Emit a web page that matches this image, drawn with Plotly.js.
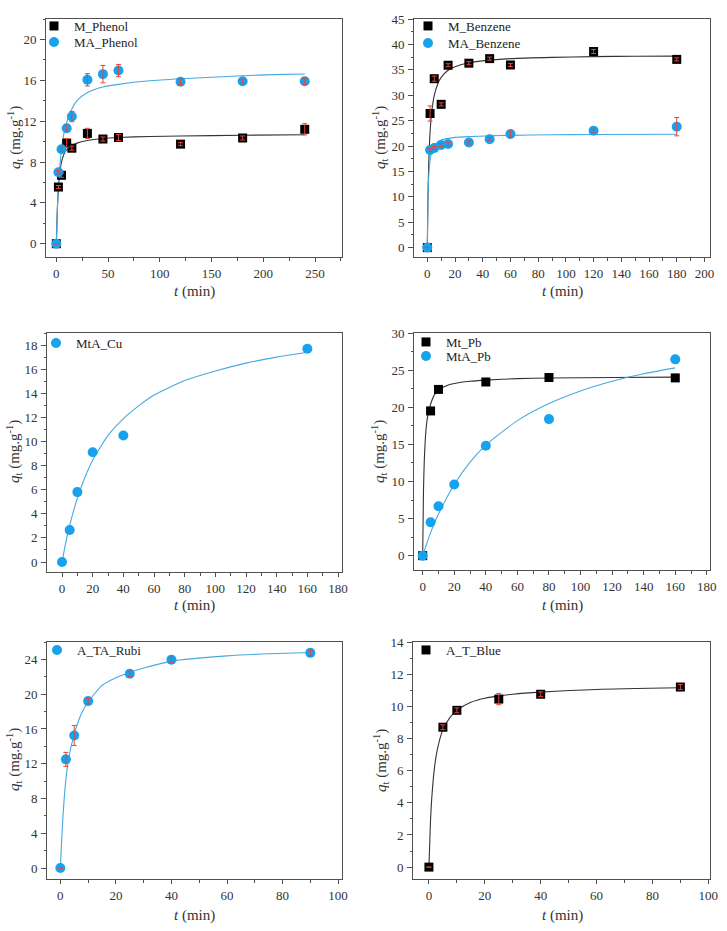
<!DOCTYPE html>
<html>
<head>
<meta charset="utf-8">
<script src="https://cdn.plot.ly/plotly-3.0.1.min.js"></script>
<style>
html,body{margin:0;padding:0;background:#fff;}
#chart{width:727px;height:931px;}
#chart svg text{font-family:"Liberation Serif","Times New Roman",serif !important;}
</style>
</head>
<body>
<div id="chart"></div>
<script>
// ---------- Panel 1: Phenol ----------
const phenolT = [0, 2, 5, 10, 15, 30, 45, 60, 120, 180, 240];
const mPhenol = [0, 5.55, 6.7, 9.85, 9.35, 10.8, 10.25, 10.4, 9.75, 10.35, 11.2];
const mPhenolErr = [0, 0.15, 0.2, 0.45, 0.2, 0.5, 0.2, 0.3, 0.15, 0.2, 0.55];
const maPhenol = [0, 7.0, 9.25, 11.3, 12.45, 16.05, 16.6, 16.95, 15.85, 15.9, 15.9];
const maPhenolErr = [0, 0.15, 0.2, 0.3, 0.5, 0.6, 0.85, 0.6, 0.25, 0.2, 0.3];
const mPhenolFitT = [0, 1, 2, 3, 5, 7.5, 10, 15, 20, 30, 45, 60, 90, 120, 180, 240];
const mPhenolFitQ = [0, 3.5, 5.5, 6.7, 8.0, 8.8, 9.2, 9.6, 9.85, 10.1, 10.3, 10.4, 10.5, 10.55, 10.62, 10.67];
const maPhenolFitT = [0, 1, 2, 3, 5, 7.5, 10, 15, 20, 30, 45, 60, 90, 120, 150, 180, 210, 240];
const maPhenolFitQ = [0, 3.4, 5.7, 7.1, 9.3, 10.9, 11.9, 13.2, 14.0, 14.8, 15.35, 15.6, 15.95, 16.15, 16.3, 16.45, 16.55, 16.62];

// ---------- Panel 2: Benzene ----------
const benzT = [0, 2, 5, 10, 15, 30, 45, 60, 120, 180];
const mBenz = [0, 26.4, 33.25, 28.2, 35.9, 36.3, 37.2, 35.95, 38.6, 37.05];
const mBenzErr = [0, 1.5, 0.5, 0.3, 0.3, 0.3, 0.3, 0.3, 0.4, 0.3];
const maBenz = [0, 19.2, 19.6, 20.2, 20.4, 20.7, 21.35, 22.35, 23.0, 23.8];
const maBenzErr = [0, 0.3, 0.3, 0.3, 0.3, 0.3, 0.3, 0.6, 0.3, 1.8];
const mBenzFitT = [0, 0.5, 1, 2, 3, 5, 7.5, 10, 15, 20, 30, 45, 60, 90, 120, 150, 180];
const mBenzFitQ = [0, 10.3, 16.2, 22.7, 26.2, 29.9, 32.2, 33.5, 34.9, 35.6, 36.4, 36.9, 37.2, 37.45, 37.6, 37.66, 37.7];
const maBenzFitT = [0, 0.5, 1, 2, 3, 5, 7.5, 10, 15, 20, 30, 45, 60, 90, 120, 180];
const maBenzFitQ = [0, 10.1, 13.9, 17.2, 18.6, 20.0, 20.8, 21.2, 21.5, 21.7, 21.85, 22.0, 22.1, 22.2, 22.25, 22.3];

// ---------- Panel 3: Cu ----------
const cuT = [0, 5, 10, 20, 40, 160];
const mtaCu = [0, 2.65, 5.8, 9.1, 10.5, 17.7];
const cuFitT = [0, 2.5, 5, 10, 15, 20, 30, 40, 50, 60, 80, 100, 120, 140, 160];
const cuFitQ = [0, 1.65, 3.05, 5.3, 7.05, 8.45, 10.5, 11.9, 12.95, 13.85, 15.05, 15.85, 16.5, 17.0, 17.4];

// ---------- Panel 4: Pb ----------
const pbT = [0, 5, 10, 40, 80, 160];
const mtPb = [0, 19.5, 22.4, 23.4, 24.0, 23.95];
const pbT2 = [0, 5, 10, 20, 40, 80, 160];
const mtaPb = [0, 4.5, 6.65, 9.6, 14.8, 18.4, 26.45];
const mtPbFitT = [0, 0.5, 1, 2, 3, 5, 7.5, 10, 15, 20, 30, 40, 60, 80, 120, 160];
const mtPbFitQ = [0, 8.6, 12.7, 16.7, 18.6, 20.4, 21.7, 22.3, 22.9, 23.2, 23.5, 23.65, 23.85, 23.93, 24.0, 24.05];
const mtaPbFitT = [0, 2.5, 5, 10, 20, 30, 40, 60, 80, 100, 120, 140, 160];
const mtaPbFitQ = [0, 1.6, 3.1, 5.6, 9.6, 12.6, 14.9, 18.2, 20.5, 22.2, 23.5, 24.5, 25.3];

// ---------- Panel 5: Rubi ----------
const rubiT = [0, 2, 5, 10, 25, 40, 90];
const rubi = [0, 12.5, 15.25, 19.2, 22.35, 23.95, 24.75];
const rubiErr = [0, 0.8, 1.15, 0.3, 0.3, 0.3, 0.3];
const rubiFitT = [0, 1, 2, 3, 5, 7.5, 10, 15, 20, 25, 30, 40, 60, 75, 90];
const rubiFitQ = [0, 6.2, 10.2, 12.6, 15.4, 17.7, 19.1, 21.0, 21.9, 22.5, 23.0, 23.8, 24.4, 24.65, 24.8];

// ---------- Panel 6: Blue ----------
const blueT = [0, 5, 10, 25, 40, 90];
const blue = [0, 8.7, 9.75, 10.45, 10.75, 11.2];
const blueErr = [0, 0.15, 0.15, 0.35, 0.15, 0.15];
const blueFitT = [0, 0.5, 1, 2, 3, 5, 7.5, 10, 15, 20, 25, 30, 40, 60, 90];
const blueFitQ = [0, 2.6, 4.25, 6.2, 7.3, 8.55, 9.3, 9.75, 10.25, 10.5, 10.65, 10.75, 10.88, 11.05, 11.15];

// ---------- text ----------
const xTitle = '<i>t</i> (min)';
const yTitle = '<i>q</i><sub>t</sub> (mg.g<sup>-1</sup>)';

// ---------- styling ----------
const FONT = 'Liberation Serif';
const BLUE = 'rgb(24,162,238)';
const BLUE_LINE = 'rgb(70,170,225)';
const BLACK = '#000000';
const BLACK_LINE = '#333333';
const RED = 'rgb(230,70,60)';

const traces = [];
function fit(x, y, color, ax, ay) {
  traces.push({x: x, y: y, xaxis: ax, yaxis: ay, mode: 'lines', type: 'scatter',
    line: {color: color, width: 1.1, shape: 'spline', smoothing: 0.6}, showlegend: false, hoverinfo: 'skip'});
}
function pts(x, y, name, sym, color, ax, ay, leg) {
  traces.push({x: x, y: y, xaxis: ax, yaxis: ay, mode: 'markers', type: 'scatter', name: name,
    legend: leg, marker: {symbol: sym, color: color, size: sym === 'square' ? 9 : 10}});
}
function errs(x, y, e, ax, ay) {
  traces.push({x: x, y: y, xaxis: ax, yaxis: ay, mode: 'markers', type: 'scatter', showlegend: false,
    marker: {opacity: 0, size: 2}, hoverinfo: 'skip',
    error_y: {type: 'data', array: e, visible: true, color: RED, thickness: 1, width: 2.5}});
}

// Panel 1
fit(mPhenolFitT, mPhenolFitQ, BLACK_LINE, 'x', 'y');
fit(maPhenolFitT, maPhenolFitQ, BLUE_LINE, 'x', 'y');
pts(phenolT, mPhenol, 'M_Phenol', 'square', BLACK, 'x', 'y', 'legend');
pts(phenolT, maPhenol, 'MA_Phenol', 'circle', BLUE, 'x', 'y', 'legend2');
errs(phenolT, mPhenol, mPhenolErr, 'x', 'y');
errs(phenolT, maPhenol, maPhenolErr, 'x', 'y');
// Panel 2
fit(mBenzFitT, mBenzFitQ, BLACK_LINE, 'x2', 'y2');
fit(maBenzFitT, maBenzFitQ, BLUE_LINE, 'x2', 'y2');
pts(benzT, mBenz, 'M_Benzene', 'square', BLACK, 'x2', 'y2', 'legend3');
pts(benzT, maBenz, 'MA_Benzene', 'circle', BLUE, 'x2', 'y2', 'legend4');
errs(benzT, mBenz, mBenzErr, 'x2', 'y2');
errs(benzT, maBenz, maBenzErr, 'x2', 'y2');
// Panel 3
fit(cuFitT, cuFitQ, BLUE_LINE, 'x3', 'y3');
pts(cuT, mtaCu, 'MtA_Cu', 'circle', BLUE, 'x3', 'y3', 'legend5');
// Panel 4
fit(mtPbFitT, mtPbFitQ, BLACK_LINE, 'x4', 'y4');
fit(mtaPbFitT, mtaPbFitQ, BLUE_LINE, 'x4', 'y4');
pts(pbT, mtPb, 'Mt_Pb', 'square', BLACK, 'x4', 'y4', 'legend6');
pts(pbT2, mtaPb, 'MtA_Pb', 'circle', BLUE, 'x4', 'y4', 'legend7');
// Panel 5
fit(rubiFitT, rubiFitQ, BLUE_LINE, 'x5', 'y5');
pts(rubiT, rubi, 'A_TA_Rubi', 'circle', BLUE, 'x5', 'y5', 'legend8');
errs(rubiT, rubi, rubiErr, 'x5', 'y5');
// Panel 6
fit(blueFitT, blueFitQ, BLACK_LINE, 'x6', 'y6');
pts(blueT, blue, 'A_T_Blue', 'square', BLACK, 'x6', 'y6', 'legend9');
errs(blueT, blue, blueErr, 'x6', 'y6');

const W = 727, H = 931;
const AXCOL = '#505050';
const TXT = '#333333';
function xAxis(range, dtick, minor, px0, px1, anchor) {
  return {domain: [px0 / W, px1 / W], range: range, anchor: anchor, dtick: dtick, tick0: 0,
    showgrid: false, zeroline: false, showline: true, mirror: true, linecolor: AXCOL, linewidth: 1,
    ticks: 'outside', ticklen: 4, tickwidth: 1, tickcolor: AXCOL, ticklabelstandoff: 0,
    minor: {dtick: minor, tick0: 0, ticks: 'outside', ticklen: 2.5, tickcolor: AXCOL, showgrid: false},
    tickfont: {family: FONT, size: 13, color: TXT}};
}
function yAxis(range, dtick, minor, py0, py1, anchor) {
  return {domain: [1 - py1 / H, 1 - py0 / H], range: range, anchor: anchor, dtick: dtick, tick0: 0,
    showgrid: false, zeroline: false, showline: true, mirror: true, linecolor: AXCOL, linewidth: 1,
    ticks: 'outside', ticklen: 5, tickwidth: 1, tickcolor: AXCOL, ticklabelstandoff: 1,
    minor: {dtick: minor, tick0: 0, ticks: 'outside', ticklen: 2.5, tickcolor: AXCOL, showgrid: false},
    tickfont: {family: FONT, size: 13, color: TXT}};
}
// legend placed from the marker centre (x) and row centre (y) in page pixels
function legend(mx, my) {
  return {x: (mx - 23) / W, y: 1 - (my - 14) / H, xanchor: 'left', yanchor: 'top', bgcolor: 'rgba(0,0,0,0)',
    borderwidth: 0, font: {family: FONT, size: 13, color: '#222'}, itemwidth: 30};
}
// axis titles as annotations placed at page pixel centres
const annotations = [];
function xLabel(cx, cy) {
  annotations.push({text: xTitle, xref: 'paper', yref: 'paper', x: cx / W, y: 1 - cy / H,
    xanchor: 'center', yanchor: 'middle', showarrow: false, font: {family: FONT, size: 15, color: TXT}});
}
function yLabel(cx, cy) {
  annotations.push({text: yTitle, xref: 'paper', yref: 'paper', x: cx / W, y: 1 - cy / H, textangle: -90,
    xanchor: 'center', yanchor: 'middle', showarrow: false, font: {family: FONT, size: 15, color: TXT}});
}
xLabel(194, 292); yLabel(15, 138);
xLabel(562, 291); yLabel(380, 138);
xLabel(194, 605); yLabel(14, 452);
xLabel(562, 605); yLabel(379, 452);
xLabel(194, 915); yLabel(14, 760);
xLabel(562, 915); yLabel(381, 760);

const layout = {
  width: W, height: H, margin: {l: 0, r: 0, t: 0, b: 0},
  font: {family: FONT, size: 13, color: TXT},
  paper_bgcolor: '#fff', plot_bgcolor: '#fff', showlegend: true,
  xaxis: xAxis([-10, 276], 50, 25, 46, 342, 'y'),
  yaxis: yAxis([-1.3, 22], 4, 2, 19, 257, 'x'),
  xaxis2: xAxis([-9.6, 204], 20, 10, 414, 710, 'y2'),
  yaxis2: yAxis([-1.85, 45], 5, 2.5, 19, 257, 'x2'),
  xaxis3: xAxis([-9.8, 182.6], 20, 10, 47, 342, 'y3'),
  yaxis3: yAxis([-0.83, 19], 2, 1, 333, 572, 'x3'),
  xaxis4: xAxis([-5.5, 182], 20, 10, 414, 710, 'y4'),
  yaxis4: yAxis([-1.93, 30], 5, 2.5, 333, 570, 'x4'),
  xaxis5: xAxis([-4.8, 101.4], 20, 10, 47, 342, 'y5'),
  yaxis5: yAxis([-1.26, 26], 4, 2, 642, 879, 'x5'),
  xaxis6: xAxis([-5.7, 100.6], 20, 10, 413, 710, 'y6'),
  yaxis6: yAxis([-0.74, 14], 2, 1, 642, 879, 'x6'),
  legend: legend(57, 25),
  legend2: legend(57, 41),
  legend3: legend(431, 25),
  legend4: legend(431, 42),
  legend5: legend(59, 342),
  legend6: legend(429, 341),
  legend7: legend(429, 355),
  legend8: legend(60, 649),
  legend9: legend(429, 649),
  annotations: annotations
};

Plotly.newPlot('chart', traces, layout, {staticPlot: true, displayModeBar: false});
</script>
</body>
</html>
